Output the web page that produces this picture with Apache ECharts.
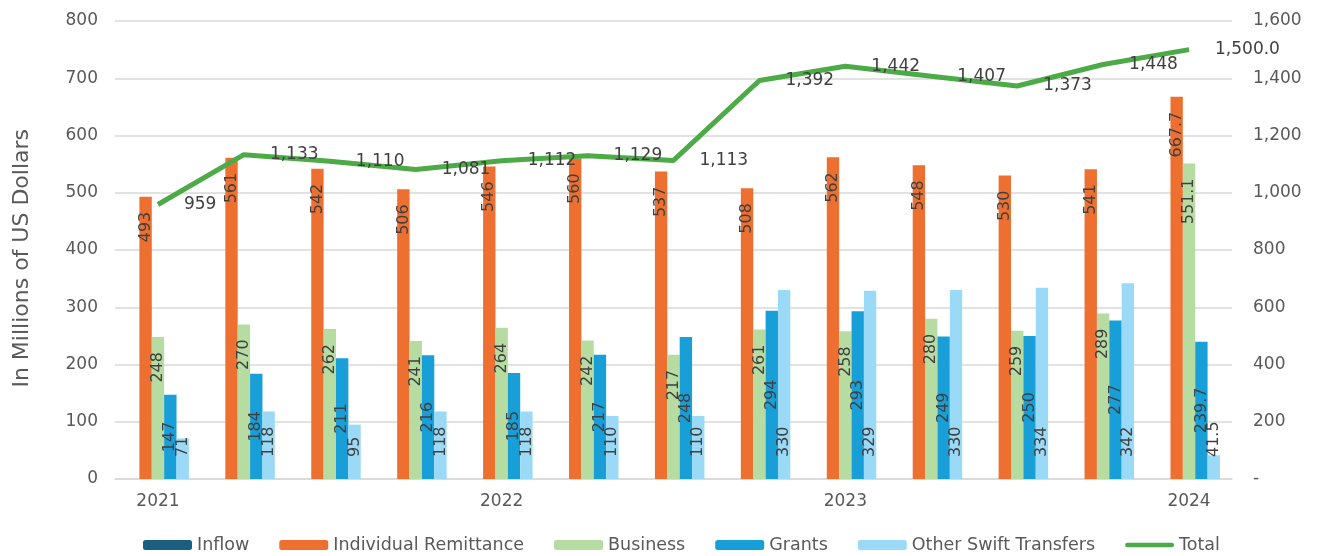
<!DOCTYPE html>
<html>
<head>
<meta charset="utf-8">
<script src="https://cdn.jsdelivr.net/npm/echarts@6/dist/echarts.min.js"></script>
<style>
html,body{margin:0;padding:0;background:#fff;}
#chart{width:1318px;height:556px;}
</style>
</head>
<body>
<div id="chart"></div>
<script>
const categories = ['2021 Q1','2021 Q2','2021 Q3','2021 Q4','2022 Q1','2022 Q2','2022 Q3','2022 Q4','2023 Q1','2023 Q2','2023 Q3','2023 Q4','2024 Q1'];
const tickLabels = ['2021','','','','2022','','','','2023','','','','2024'];
const inflow = [null,null,null,null,null,null,null,null,null,null,null,null,null];
const individual = [493,561,542,506,546,560,537,508,562,548,530,541,667.7];
const business = [248,270,262,241,264,242,217,261,258,280,259,289,551.1];
const grants = [147,184,211,216,185,217,248,294,293,249,250,277,239.7];
const otherSwift = [71,118,95,118,118,110,110,330,329,330,334,342,41.5];
const total = [959,1133,1110,1081,1112,1129,1113,1392,1442,1407,1373,1448,1500.0];
const labelDecimals = [0,0,0,0,0,0,0,0,0,0,0,0,1];

const FONT = 'DejaVu Sans';
const TXT = '#404040';
const AX = '#595959';
const GREEN = '#4CAA47';

function fmt(v, i) {
  return Number(v).toLocaleString('en-US', {minimumFractionDigits: labelDecimals[i], maximumFractionDigits: labelDecimals[i]});
}

function barLabel(pos, align, dist) {
  return {
    show: true, position: pos, rotate: 90, align: align, verticalAlign: 'middle',
    distance: dist, color: TXT, fontFamily: FONT, fontSize: 16,
    formatter: p => fmt(p.value, p.dataIndex)
  };
}

const chart = echarts.init(document.getElementById('chart'), null, {renderer: 'canvas'});
chart.setOption({
  animation: false,
  textStyle: {fontFamily: FONT},
  grid: {left: 115, right: 86, top: 21, bottom: 77},
  legend: {
    left: 138, top: 531, itemWidth: 49, itemHeight: 10, itemGap: 30,
    textStyle: {color: AX, fontSize: 17.5, fontFamily: FONT},
    data: ['Inflow','Individual Remittance','Business','Grants','Other Swift Transfers',
      {name: 'Total', icon: 'path://M2.5,0 L50.5,0 A2.5,2.5 0 0 1 50.5,5 L2.5,5 A2.5,2.5 0 0 1 2.5,0 Z', itemStyle: {color: GREEN}}]
  },
  graphic: [{
    type: 'text', left: 11, top: 129, rotation: Math.PI / 2,
    style: {text: 'In Millions of US Dollars', fill: AX, font: '22px "DejaVu Sans"'}
  }],
  xAxis: {
    type: 'category', data: categories,
    axisLine: {lineStyle: {color: '#D9D9D9', width: 1.5}},
    axisTick: {show: false},
    axisLabel: {interval: 0, color: AX, fontSize: 17, fontFamily: FONT, margin: 14,
      formatter: (v, i) => tickLabels[i]}
  },
  yAxis: [{
    type: 'value', min: 0, max: 800, interval: 100,
    axisLine: {show: false}, axisTick: {show: false},
    splitLine: {lineStyle: {color: '#D9D9D9', width: 1.5}},
    axisLabel: {color: AX, fontSize: 17, fontFamily: FONT, margin: 17}
  }, {
    type: 'value', min: 0, max: 1600, interval: 200,
    axisLine: {show: false}, axisTick: {show: false}, splitLine: {show: false},
    axisLabel: {color: AX, fontSize: 17, fontFamily: FONT, margin: 21,
      formatter: v => v === 0 ? '-' : v.toLocaleString('en-US')}
  }],
  series: [
    {name: 'Inflow', type: 'bar', data: inflow, itemStyle: {color: '#1B5E80'}, barGap: '0%', barCategoryGap: '28%'},
    {name: 'Individual Remittance', type: 'bar', data: individual, itemStyle: {color: '#ED7031'},
      label: barLabel('insideTop', 'right', 15)},
    {name: 'Business', type: 'bar', data: business, itemStyle: {color: '#B7DCA2'},
      label: barLabel('insideTop', 'right', 15)},
    {name: 'Grants', type: 'bar', data: grants, itemStyle: {color: '#199FD8'},
      label: barLabel('inside', 'center', 5)},
    {name: 'Other Swift Transfers', type: 'bar', data: otherSwift, itemStyle: {color: '#9BDAF6'},
      label: barLabel('insideBottom', 'left', 22)},
    {name: 'Total', type: 'line', yAxisIndex: 1, data: total, symbol: 'circle', symbolSize: 0.01,
      showSymbol: true,
      lineStyle: {color: GREEN, width: 5}, itemStyle: {color: GREEN},
      label: {show: true, position: 'right', distance: 26, color: TXT, fontSize: 17, fontFamily: FONT,
        formatter: p => fmt(p.value, p.dataIndex)}}
  ]
});
</script>
</body>
</html>
